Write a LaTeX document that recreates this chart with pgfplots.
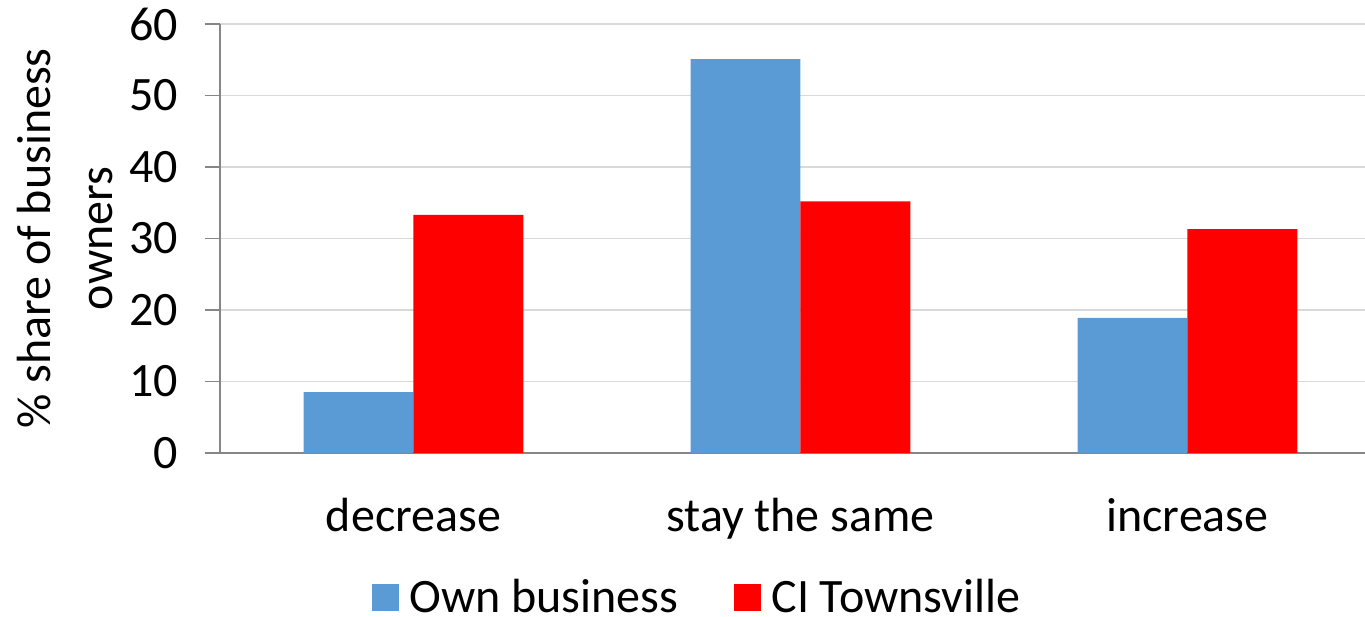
\documentclass[border=0pt]{standalone}
\usepackage{fontspec}
\setmainfont{Carlito}
\usepackage{pgfplots}
\pgfplotsset{compat=1.18}
\usetikzlibrary{calc}
\definecolor{ownblue}{RGB}{91,155,213}
\definecolor{cired}{RGB}{255,0,0}
\definecolor{gridgray}{RGB}{217,217,217}
\definecolor{axgray}{RGB}{134,134,134}
\begin{document}
\begin{tikzpicture}
\begin{axis}[
  name=ax,
  scale only axis,
  width=572.5pt, height=214.5pt,
  xmin=-0.5, xmax=2.4587,
  ymin=0, ymax=60,
  ytick={0,10,...,60},
  xtick={0,1,2},
  xticklabels={decrease,stay the same,increase},
  minor xtick={-0.5,0.5,1.5},
  major tick length=7.5pt,
  minor tick length=7pt,
  xtick style={draw=none},
  ytick style={draw=axgray, line width=0.6pt},
  minor tick style={draw=axgray, line width=0.6pt},
  axis x line*=bottom,
  axis y line*=left,
  axis line style={draw=axgray, line width=0.8pt, -},
  tick align=outside,
  ymajorgrids,
  grid style={draw=gridgray, line width=0.8pt},
  font=\fontsize{24}{29}\selectfont,
  /pgf/number format/assume math mode=true,
  ticklabel style={font=\fontsize{24}{29}\selectfont},
  yticklabel style={xshift=-10pt},
  xticklabel style={yshift=-11.5pt},
  ybar=0pt,
  bar width=0.2842,
  ylabel={\% share of business\\owners},
  ylabel style={align=center, font=\fontsize{24}{31}\selectfont, inner sep=0pt,
    at={(rel axis cs:0,0.5)}, anchor=north, yshift=101.5pt},
  legend style={draw=none, fill=none, at={(rel axis cs:0.1275,-0.3357)}, anchor=west,
    legend columns=2, font=\fontsize{24}{29}\selectfont,
    /tikz/every even column/.append style={column sep=26pt}},
  legend image code/.code={\fill[#1,draw=none] (0pt,-6.75pt) rectangle (13.5pt,6.75pt); \path (16.5pt,0pt);},
  clip=false,
]
\addplot[fill=ownblue, draw=none, bar shift=-0.1421] coordinates {(0,8.5) (1,55.1) (2,18.9)};
\addplot[fill=cired, draw=none, bar shift=0.1421] coordinates {(0,33.3) (1,35.2) (2,31.3)};
\legend{Own business, CI Townsville}
\end{axis}
\pgfresetboundingbox
\path[use as bounding box] ($(ax.south west)+(-110pt,-81.5pt)$) rectangle ($(ax.south west)+(572.5pt,226.5pt)$);
\end{tikzpicture}
\end{document}
